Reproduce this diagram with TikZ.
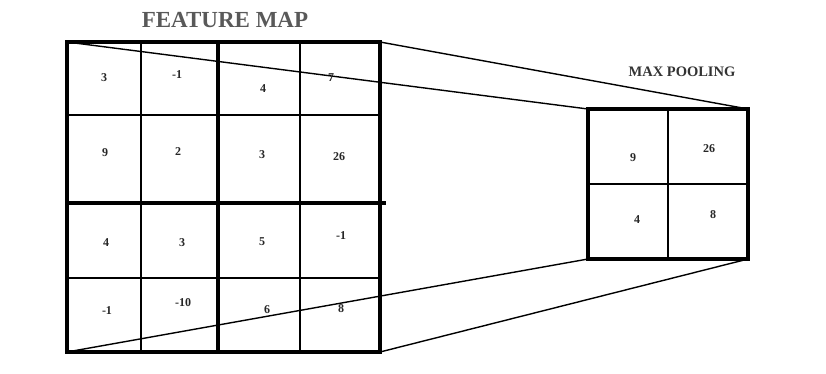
\documentclass[tikz,border=0pt]{standalone}
\usepackage{fontspec}
\setmainfont{Liberation Serif}
\begin{document}
\begin{tikzpicture}[x=1pt,y=-1pt,
  thickline/.style={line width=3.2pt,line cap=rect},
  thinline/.style={line width=1.4pt},
  conn/.style={line width=1.4pt},
  num/.style={font=\bfseries\fontsize{12}{12}\selectfont,text=black!85},
  title/.style={font=\bfseries\fontsize{23}{23}\selectfont,text=black!65},
  subtitle/.style={font=\bfseries\fontsize{14.5}{14.5}\selectfont,text=black!80}]
\useasboundingbox (0,0) rectangle (826,373);
% feature map corners
\coordinate (ftl) at (67,42);
\coordinate (ftr) at (380,42);
\coordinate (fbl) at (67,352);
\coordinate (fbr) at (380,352);
% pooling corners
\coordinate (ptl) at (588,109);
\coordinate (ptr) at (748,109);
\coordinate (pbl) at (588,259);
\coordinate (pbr) at (748,259);
% thin grid lines
\draw[thinline] (141,42) -- (141,352);
\draw[thinline] (300,42) -- (300,352);
\draw[thinline] (67,115) -- (380,115);
\draw[thinline] (67,278) -- (380,278);
% thick lines
\draw[thickline] (218,42) -- (218,352);
\draw[thickline] (67,203) -- (384,203);
\draw[thickline] (ftl) rectangle (fbr);
% pooling grid
\draw[thinline] (668,109) -- (668,259);
\draw[thinline] (588,184) -- (748,184);
\draw[thickline] (ptl) rectangle (pbr);
% connectors
\draw[conn] (ftl) -- (ptl);
\draw[conn] (ftr) -- (ptr);
\draw[conn] (fbl) -- (pbl);
\draw[conn] (fbr) -- (pbr);
% titles
\node[title] (t1) at (225,20) {FEATURE MAP};
\node[subtitle] (t2) at (682,72) {MAX POOLING};
% feature map numbers
\node[num] (a11) at (104,78) {3};
\node[num] (a12) at (177,75) {-1};
\node[num] (a13) at (263,89) {4};
\node[num] (a14) at (331,78) {7};
\node[num] (a21) at (105,153) {9};
\node[num] (a22) at (178,152) {2};
\node[num] (a23) at (262,155) {3};
\node[num] (a24) at (339,157) {26};
\node[num] (a31) at (106,243) {4};
\node[num] (a32) at (182,243) {3};
\node[num] (a33) at (262,242) {5};
\node[num] (a34) at (341,236) {-1};
\node[num] (a41) at (107,311) {-1};
\node[num] (a42) at (183,303) {-10};
\node[num] (a43) at (267,310) {6};
\node[num] (a44) at (341,309) {8};
% pooling numbers
\node[num] (p11) at (633,158) {9};
\node[num] (p12) at (709,149) {26};
\node[num] (p21) at (637,220) {4};
\node[num] (p22) at (713,215) {8};
\end{tikzpicture}
\end{document}
